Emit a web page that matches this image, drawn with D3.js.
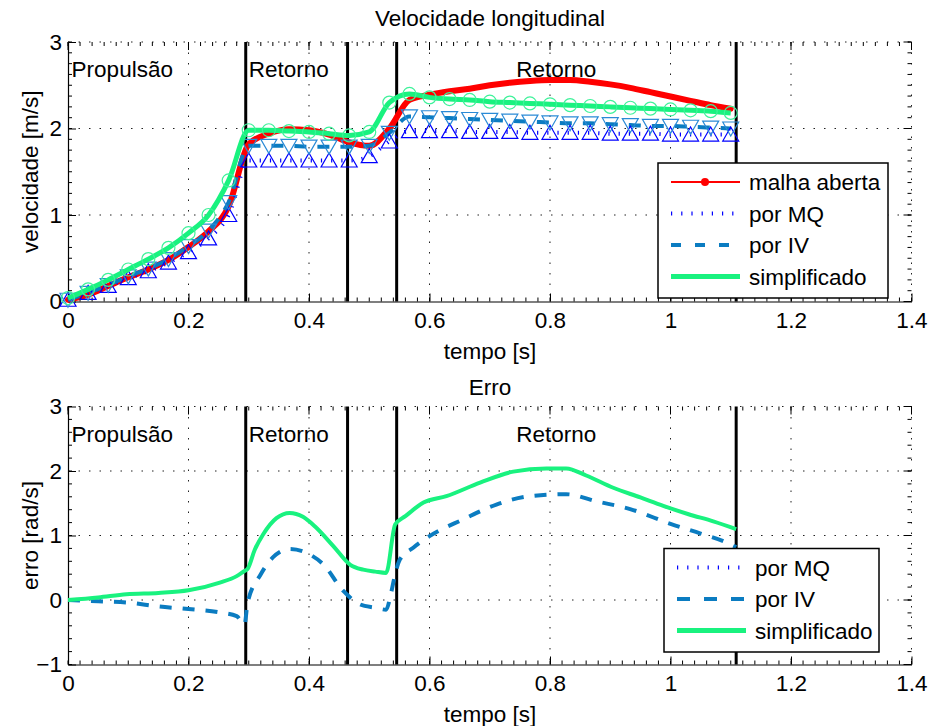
<!DOCTYPE html>
<html>
<head>
<meta charset="utf-8">
<script src="https://cdn.jsdelivr.net/npm/d3@7"></script>
<style>
body { margin: 0; background: #fff; }
svg { display: block; font-family: "Liberation Sans", Arial, sans-serif; }
</style>
</head>
<body>
<svg id="chart" width="930" height="726"></svg>
<script>
// amostras da velocidade (30 Hz)
const tempo = [0, 0.0333, 0.0667, 0.1, 0.1333, 0.1667, 0.2, 0.2333, 0.2667, 0.3, 0.3333, 0.3667,
    0.4, 0.4333, 0.4667, 0.5, 0.5333, 0.5667, 0.6, 0.6333, 0.6667, 0.7, 0.7333, 0.7667, 0.8,
    0.8333, 0.8667, 0.9, 0.9333, 0.9667, 1.0, 1.0333, 1.0667, 1.1];
const malhaAberta = [0.02, 0.08, 0.18, 0.28, 0.37, 0.48, 0.63, 0.81, 1.1, 1.82, 1.94, 1.99,
    1.98, 1.93, 1.84, 1.8, 2.0, 2.33, 2.39, 2.43, 2.46, 2.5, 2.53, 2.55, 2.56, 2.56, 2.54,
    2.51, 2.47, 2.42, 2.37, 2.32, 2.27, 2.23];
const porMQ = [0.02, 0.1, 0.18, 0.27, 0.35, 0.45, 0.57, 0.73, 1.0, 1.63, 1.63, 1.63, 1.63,
    1.63, 1.63, 1.68, 1.85, 1.97, 1.97, 1.97, 1.96, 1.96, 1.96, 1.95, 1.95, 1.95, 1.95, 1.94,
    1.94, 1.94, 1.93, 1.93, 1.93, 1.93];
const porIV = [0.02, 0.1, 0.19, 0.29, 0.38, 0.49, 0.64, 0.82, 1.15, 1.8, 1.8, 1.8, 1.79,
    1.79, 1.79, 1.8, 1.95, 2.14, 2.13, 2.12, 2.11, 2.1, 2.09, 2.08, 2.07, 2.06, 2.06, 2.05,
    2.04, 2.03, 2.03, 2.02, 2.01, 2.0];
const simplificado = [0.04, 0.14, 0.25, 0.37, 0.49, 0.62, 0.79, 1.0, 1.4, 1.98, 1.98, 1.97,
    1.96, 1.94, 1.92, 1.96, 2.3, 2.4, 2.36, 2.34, 2.33, 2.31, 2.3, 2.29, 2.28, 2.27, 2.26,
    2.25, 2.24, 2.23, 2.22, 2.21, 2.2, 2.18];

// erro
const erroTempoIV = [0, 0.05, 0.1, 0.15, 0.2, 0.25, 0.28, 0.293, 0.298, 0.32, 0.34, 0.368,
    0.396, 0.424, 0.457, 0.485, 0.51, 0.528, 0.536, 0.543, 0.551, 0.573, 0.6, 0.656, 0.711,
    0.767, 0.827, 0.877, 0.933, 1.0, 1.05, 1.088, 1.109];
const erroIV = [0, -0.02, -0.04, -0.1, -0.14, -0.19, -0.25, -0.38, -0.05, 0.4, 0.66, 0.79,
    0.73, 0.55, 0.14, -0.07, -0.12, -0.15, 0.1, 0.4, 0.63, 0.81, 0.99, 1.25, 1.48, 1.61,
    1.64, 1.53, 1.41, 1.18, 1.03, 0.91, 0.82];
const erroTempoSimp = [0, 0.05, 0.097, 0.15, 0.2, 0.252, 0.28, 0.293, 0.298, 0.31, 0.324,
    0.346, 0.368, 0.39, 0.41, 0.44, 0.468, 0.49, 0.51, 0.528, 0.543, 0.56, 0.59, 0.628, 0.684,
    0.739, 0.794, 0.827, 0.86, 0.905, 0.95, 0.988, 1.03, 1.071, 1.109];
const erroSimp = [0, 0.04, 0.09, 0.11, 0.15, 0.27, 0.37, 0.45, 0.48, 0.78, 1.02, 1.27, 1.35,
    1.29, 1.14, 0.84, 0.55, 0.47, 0.44, 0.42, 1.17, 1.3, 1.51, 1.61, 1.82, 1.99, 2.04, 2.04,
    1.93, 1.74, 1.59, 1.46, 1.33, 1.22, 1.1];

const fases = [0.295, 0.464, 0.5455, 1.109];
const faseNomes = ["Propulsão", "Retorno", "Retorno"];
const faseInicio = [0.006, 0.3, 0.744];

const xTicks = [0, 0.2, 0.4, 0.6, 0.8, 1, 1.2, 1.4];
const yTicksVel = [0, 1, 2, 3];
const yTicksErro = [-1, 0, 1, 2, 3];

const cores = {
    malha: "#ff0000",
    mq: "#0000ff",
    iv: "#0b7cc1",
    simp: "#19f27f",
};

const svg = d3.select("#chart");
const FS = 22.5;
const x = d3.scaleLinear().domain([0, 1.4]).range([68, 911.5]);

function drawPanel({ top, bottom, yDomain, yTicks, yMinor, titulo, tituloY, yLabel }) {
    const y = d3.scaleLinear().domain(yDomain).range([bottom, top]);
    const g = svg.append("g");

    // grid
    g.append("g")
        .selectAll("line")
        .data(xTicks.slice(1))
        .join("line")
        .attr("x1", (d) => x(d))
        .attr("x2", (d) => x(d))
        .attr("y1", top)
        .attr("y2", bottom)
        .attr("stroke", "#222")
        .attr("stroke-width", 1)
        .attr("stroke-dasharray", "1.5 9");
    g.append("g")
        .selectAll("line")
        .data(yTicks.slice(1))
        .join("line")
        .attr("x1", x.range()[0])
        .attr("x2", x.range()[1])
        .attr("y1", (d) => y(d))
        .attr("y2", (d) => y(d))
        .attr("stroke", "#222")
        .attr("stroke-width", 1)
        .attr("stroke-dasharray", "1.5 9");

    const xMinor = d3.range(0, 1.4001, 0.02);
    const yMinorVals = d3.range(yDomain[0], yDomain[1] + 0.001, yMinor);

    // minor ticks (bottom / top / left / right)
    const minor = g.append("g").attr("stroke", "#000").attr("stroke-width", 1);
    minor.selectAll(".mx")
        .data(xMinor)
        .join("path")
        .attr("d", (d) => `M${x(d)},${bottom}v-4M${x(d)},${top}v4`);
    minor.selectAll(".my")
        .data(yMinorVals)
        .join("path")
        .attr("d", (d) => `M${x.range()[0]},${y(d)}h4M${x.range()[1]},${y(d)}h-4`);
    minor.selectAll(".Mx")
        .data(xTicks)
        .join("path")
        .attr("d", (d) => `M${x(d)},${top}v8`);
    minor.selectAll(".My")
        .data(yTicks)
        .join("path")
        .attr("d", (d) => `M${x.range()[1]},${y(d)}h-8`);

    const xAxis = g.append("g")
        .attr("transform", `translate(0,${bottom})`)
        .call(d3.axisBottom(x).tickValues(xTicks).tickSize(-8).tickSizeOuter(0).tickPadding(11)
            .tickFormat((d) => String(d)));
    const yAxis = g.append("g")
        .attr("transform", `translate(${x.range()[0]},0)`)
        .call(d3.axisLeft(y).tickValues(yTicks).tickSize(-8).tickSizeOuter(0).tickPadding(6)
            .tickFormat((d) => (d < 0 ? "\u2212" + Math.abs(d) : String(d))));
    [xAxis, yAxis].forEach((a) => {
        a.selectAll("text").attr("font-size", FS).attr("fill", "#000").attr("font-family", null);
        a.attr("font-family", null);
        a.select(".domain").attr("stroke", "#000").attr("stroke-width", 1.2);
    });

    // titulo e rotulos
    g.append("text")
        .attr("x", 490).attr("y", tituloY)
        .attr("text-anchor", "middle").attr("font-size", FS)
        .text(titulo);
    g.append("text")
        .attr("x", 490).attr("y", bottom + 57)
        .attr("text-anchor", "middle").attr("font-size", FS)
        .text("tempo [s]");
    g.append("text")
        .attr("transform", `translate(38,${(top + bottom) / 2}) rotate(-90)`)
        .attr("text-anchor", "middle").attr("font-size", FS)
        .text(yLabel);

    return { g, y };
}

function addPhases(g, y, top, bottom) {
    g.append("g")
        .selectAll("line")
        .data(fases)
        .join("line")
        .attr("x1", (d) => x(d))
        .attr("x2", (d) => x(d))
        .attr("y1", top)
        .attr("y2", bottom)
        .attr("stroke", "#000")
        .attr("stroke-width", 3);
    g.append("g")
        .selectAll("text")
        .data(faseNomes)
        .join("text")
        .attr("x", (d, i) => x(faseInicio[i]))
        .attr("y", top + 35)
        .attr("font-size", FS)
        .text((d) => d);
}

function addLegend(g, { left, topY, width, rows }) {
    const rowH = 31.5;
    const lg = g.append("g");
    lg.append("rect")
        .attr("x", left).attr("y", topY)
        .attr("width", width).attr("height", rows.length * rowH + 9)
        .attr("fill", "#fff").attr("stroke", "#000").attr("stroke-width", 1.5);
    rows.forEach((r, i) => {
        const cy = topY + 19 + i * rowH;
        lg.append("line")
            .attr("x1", left + 13).attr("x2", left + 82)
            .attr("y1", cy).attr("y2", cy)
            .attr("stroke", r.color)
            .attr("stroke-width", r.width)
            .attr("stroke-dasharray", r.dash || null);
        if (r.dot) {
            lg.append("circle").attr("cx", left + 47).attr("cy", cy).attr("r", 4).attr("fill", r.color);
        }
        lg.append("text")
            .attr("x", left + 91).attr("y", cy + 8)
            .attr("font-size", FS)
            .text(r.label);
    });
}

const tri = (up) => (up ? "M0,-7.5L8,6.5L-8,6.5Z" : "M0,7.5L8,-6.5L-8,-6.5Z");

// ---- painel superior
const topP = drawPanel({
    top: 42, bottom: 301.5, yDomain: [0, 3], yTicks: yTicksVel, yMinor: 0.125,
    titulo: "Velocidade longitudinal", tituloY: 26, yLabel: "velocidade [m/s]",
});
addPhases(topP.g, topP.y, 42, 301.5);

const vel = tempo.map((t, i) => ({
    t, malha: malhaAberta[i], mq: porMQ[i], iv: porIV[i], simp: simplificado[i],
}));
const lineFor = (y, key) => d3.line().x((d) => x(d.t)).y((d) => y(d[key])).curve(d3.curveMonotoneX);

const plotTop = topP.g.append("g");
plotTop.append("path").datum(vel)
    .attr("d", lineFor(topP.y, "malha"))
    .attr("fill", "none").attr("stroke", cores.malha).attr("stroke-width", 6)
    .attr("stroke-linejoin", "round").attr("stroke-linecap", "round");
plotTop.append("path").datum(vel)
    .attr("d", lineFor(topP.y, "mq"))
    .attr("fill", "none").attr("stroke", cores.mq).attr("stroke-width", 4)
    .attr("stroke-dasharray", "1.2 9");
plotTop.append("path").datum(vel)
    .attr("d", lineFor(topP.y, "iv"))
    .attr("fill", "none").attr("stroke", cores.iv).attr("stroke-width", 4)
    .attr("stroke-dasharray", "12 11");
plotTop.selectAll(".tu").data(vel).join("path")
    .attr("transform", (d) => `translate(${x(d.t)},${topP.y(d.mq)})`)
    .attr("d", tri(true)).attr("fill", "none").attr("stroke", cores.mq).attr("stroke-width", 1.2);
plotTop.selectAll(".td").data(vel).join("path")
    .attr("transform", (d) => `translate(${x(d.t)},${topP.y(d.iv)})`)
    .attr("d", tri(false)).attr("fill", "none").attr("stroke", "#2a8ad6").attr("stroke-width", 1.2);
plotTop.append("path").datum(vel)
    .attr("d", lineFor(topP.y, "simp"))
    .attr("fill", "none").attr("stroke", cores.simp).attr("stroke-width", 5)
    .attr("stroke-linejoin", "round");
plotTop.selectAll(".ci").data(vel).join("circle")
    .attr("cx", (d) => x(d.t)).attr("cy", (d) => topP.y(d.simp)).attr("r", 6.5)
    .attr("fill", "none").attr("stroke", "#3ef29a").attr("stroke-width", 1.2);

addLegend(topP.g, {
    left: 658, topY: 163, width: 230,
    rows: [
        { label: "malha aberta", color: cores.malha, width: 2, dot: true },
        { label: "por MQ", color: cores.mq, width: 4, dash: "1.2 9" },
        { label: "por IV", color: cores.iv, width: 4, dash: "10 14" },
        { label: "simplificado", color: cores.simp, width: 5 },
    ],
});

// ---- painel inferior
const botP = drawPanel({
    top: 406.5, bottom: 664.5, yDomain: [-1, 3], yTicks: yTicksErro, yMinor: 0.2,
    titulo: "Erro", tituloY: 395, yLabel: "erro [rad/s]",
});
addPhases(botP.g, botP.y, 406.5, 664.5);

const ivPts = erroTempoIV.map((t, i) => ({ t, v: erroIV[i] }));
const simpPts = erroTempoSimp.map((t, i) => ({ t, v: erroSimp[i] }));
const plotBot = botP.g.append("g");
plotBot.append("path").datum(ivPts)
    .attr("d", lineFor(botP.y, "v"))
    .attr("fill", "none").attr("stroke", cores.iv).attr("stroke-width", 4)
    .attr("stroke-dasharray", "12 11");
plotBot.append("path").datum(simpPts)
    .attr("d", lineFor(botP.y, "v"))
    .attr("fill", "none").attr("stroke", cores.simp).attr("stroke-width", 4)
    .attr("stroke-linejoin", "round");

addLegend(botP.g, {
    left: 664, topY: 548.5, width: 215,
    rows: [
        { label: "por MQ", color: cores.mq, width: 4, dash: "1.2 9" },
        { label: "por IV", color: cores.iv, width: 4, dash: "13 14" },
        { label: "simplificado", color: cores.simp, width: 5 },
    ],
});
</script>
</body>
</html>
